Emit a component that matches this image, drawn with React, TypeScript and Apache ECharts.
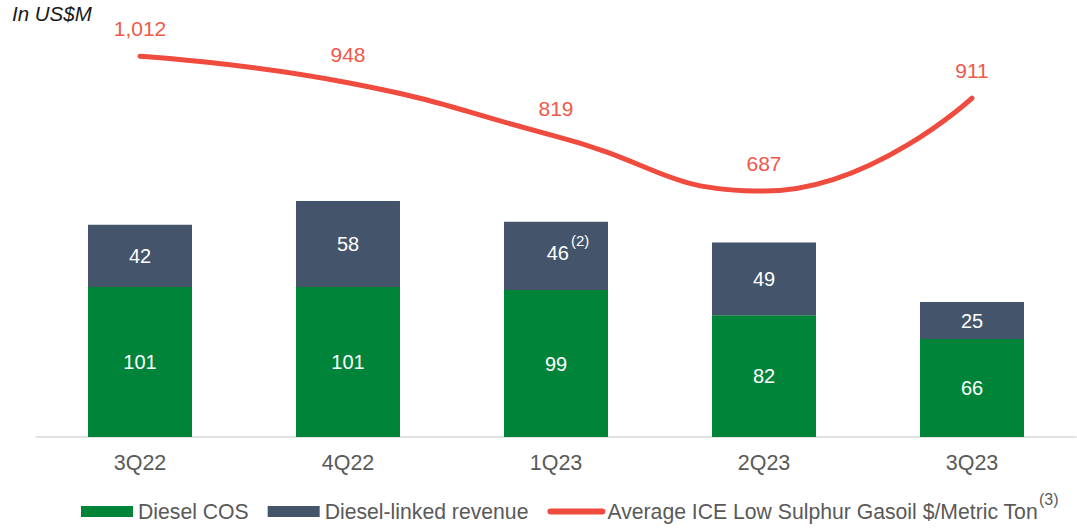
import React, { useEffect, useRef } from "react";
import * as echarts from "echarts";

const categories = ["3Q22", "4Q22", "1Q23", "2Q23", "3Q23"];
const dieselCOS = [101, 101, 99, 82, 66];
const dieselLinkedRevenue = [42, 58, 46, 49, 25];
const gasoilPrice = [1012, 948, 819, 687, 911];
const revenueFootnoteIndex = 2;
const revenueFootnote = "(2)";
const lineFootnote = "(3)";

const GREEN = "#00843a";
const SLATE = "#44546a";
const RED = "#ef4b3f";

export default function App() {
  const ref = useRef<HTMLDivElement>(null);
  useEffect(() => {
    if (!ref.current) return;
    const chart = echarts.init(ref.current, null, { renderer: "svg" });
    const font = "'Liberation Sans', Arial, sans-serif";
    chart.setOption({
      animation: false,
      backgroundColor: "#ffffff",
      textStyle: { fontFamily: font },
      title: {
        text: "In US$M",
        left: 12,
        top: 3,
        padding: 0,
        textStyle: { fontSize: 20.5, fontStyle: "italic", fontWeight: "normal", color: "#1a1a1a", fontFamily: font },
      },
      grid: { left: 36, right: 1, top: 20, bottom: 91 },
      legend: {
        left: 81,
        top: 491,
        padding: 0,
        itemWidth: 52,
        itemHeight: 11,
        itemGap: 19,
        textStyle: {
          fontSize: 21,
          color: "#595959",
          fontFamily: font,
          rich: {
            a: { fontSize: 21.2, color: "#595959", lineHeight: 24, fontFamily: font },
            s: { fontSize: 16, color: "#595959", lineHeight: 24, padding: [0, 0, 25, 1], fontFamily: font },
          },
        },
        data: [
          { name: "Diesel COS", icon: "rect" },
          { name: "Diesel-linked revenue", icon: "rect" },
          {
            name: "Average ICE Low Sulphur Gasoil $/Metric Ton",
            itemStyle: { opacity: 0 },
            lineStyle: { width: 6, cap: "round", color: RED },
          },
        ],
        formatter: (name: string) =>
          name.startsWith("Average") ? `{a|${name}}{s|${lineFootnote}}` : `{a|${name}}`,
      },
      xAxis: {
        type: "category",
        data: categories,
        axisTick: { show: false },
        axisLine: { lineStyle: { color: "#d9d9d9", width: 1.5 } },
        axisLabel: { fontSize: 21.5, color: "#595959", margin: 15, fontFamily: font },
      },
      yAxis: [
        { type: "value", min: 0, max: 281, show: false, splitLine: { show: false } },
        { type: "value", min: 95, max: 1099, show: false, splitLine: { show: false } },
      ],
      series: [
        {
          name: "Diesel COS",
          type: "bar",
          stack: "a",
          barWidth: "50%",
          itemStyle: { color: GREEN },
          label: { show: true, position: "inside", color: "#ffffff", fontSize: 20, fontFamily: font },
          data: dieselCOS,
        },
        {
          name: "Diesel-linked revenue",
          type: "bar",
          stack: "a",
          barWidth: "50%",
          itemStyle: { color: SLATE },
          label: {
            show: true,
            position: "inside",
            color: "#ffffff",
            fontSize: 20,
            fontFamily: font,
            formatter: (p: any) =>
              p.dataIndex === revenueFootnoteIndex ? `{a|${p.value}}{s|${revenueFootnote}}` : `{a|${p.value}}`,
            rich: {
              a: { fontSize: 20, color: "#ffffff", lineHeight: 24, fontFamily: font },
              s: { fontSize: 15, color: "#ffffff", lineHeight: 24, padding: [0, 0, 25, 2], fontFamily: font },
            },
          },
          data: dieselLinkedRevenue.map((v, i) =>
            i === revenueFootnoteIndex ? { value: v, label: { offset: [12, -3] } } : v
          ),
        },
        {
          name: "Average ICE Low Sulphur Gasoil $/Metric Ton",
          type: "line",
          yAxisIndex: 1,
          smooth: 0.5,
          symbol: "circle",
          symbolSize: 1,
          showSymbol: true,
          lineStyle: { color: RED, width: 5, cap: "round" },
          itemStyle: { color: RED },
          label: {
            show: true,
            position: "top",
            distance: 17,
            color: "#f0584a",
            fontSize: 21,
            fontFamily: font,
            formatter: (p: any) => Number(p.value).toLocaleString("en-US"),
          },
          data: gasoilPrice,
          z: 5,
        },
      ],
    });
    return () => chart.dispose();
  }, []);
  return (
    <div
      ref={ref}
      style={{ position: "fixed", left: 0, top: 0, width: 1077, height: 528 }}
    />
  );
}
